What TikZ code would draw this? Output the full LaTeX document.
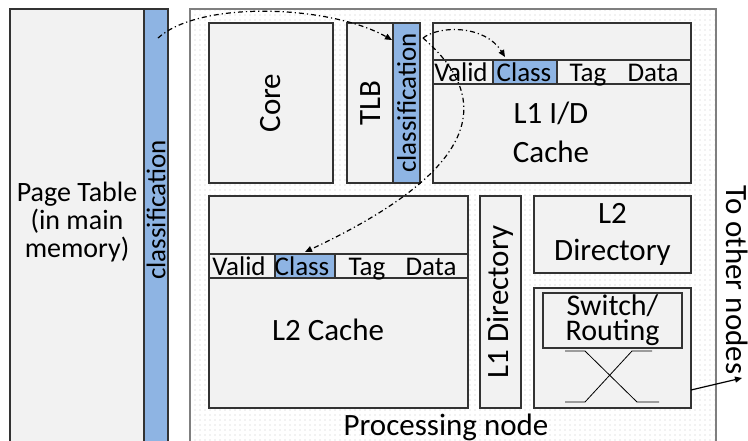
\documentclass[tikz,border=0pt]{standalone}
\usepackage{fontspec}
\setmainfont{Carlito}
\usetikzlibrary{
    arrows.meta,
    patterns.meta,
    calc,
}
\definecolor{boxgray}{HTML}{F2F2F2}
\definecolor{classblue}{HTML}{8EB4E3}
\definecolor{framegray}{HTML}{7F7F7F}
\tikzset{
    blocknode/.style={
            draw=black!80,
            fill=boxgray,
            line width=1.1pt,
            inner sep=0,
            outer sep=0,
            font=\fontsize{31}{37}\selectfont,
        }
}
\tikzset{
    classnode/.style={
            blocknode,
            fill=classblue,
        }
}
\tikzset{
    labelnode/.style={
            inner sep=0,
            font=\fontsize{31}{39}\selectfont,
        }
}
\tikzset{
    smallnode/.style={
            inner sep=0,
            font=\fontsize{27}{28}\selectfont,
        }
}
\tikzset{
    copyarrow/.style={
            -{Triangle[length=7pt,width=6pt]},
            line width=1.2pt,
            dash pattern=on 5pt off 3pt on 1.2pt off 3pt,
        }
}

\begin{document}
\begin{tikzpicture}[x=1pt, y=-1pt]
    \fill[white] (0,0) rectangle (748,440);
    \useasboundingbox (0,0) rectangle (748,440);

    % page table
    \node[
        blocknode,
        anchor=north west,
        minimum width=134,
        minimum height=460,
    ] (PT) at (10,9) {};
    \node[
        classnode,
        anchor=north west,
        minimum width=24,
        minimum height=460,
    ] (PC) at (PT.north east) {};
    \node[
        labelnode,
        align=center,
        font=\fontsize{28}{28}\selectfont,
    ] at (77,222) {Page Table\\(in main\\memory)};
    \node[smallnode, rotate=90] at (156,210) {classification};

    % processing node
    \node[
        draw=framegray,
        line width=1.5pt,
        pattern={Dots[distance=5pt, radius=0.7pt]},
        pattern color=black!22,
        anchor=north west,
        minimum width=526,
        minimum height=460,
        inner sep=0,
        outer sep=0,
    ] (PN) at (190,9) {};
    \node[labelnode, anchor=base] at (446,435) {Processing node};

    % core
    \node[blocknode, minimum width=124, minimum height=160] (C) at (271,103) {};
    \node[labelnode, rotate=90] at (C) {Core};

    % tlb
    \node[blocknode, minimum width=73, minimum height=160] (T) at (383.5,103) {};
    \node[labelnode, rotate=90] at (371,103) {TLB};
    \node[classnode, minimum width=27, minimum height=160] (TC) at (406.5,103) {};
    \node[smallnode, rotate=90] at (TC) {classification};

    % l1 cache
    \node[blocknode, minimum width=258, minimum height=160] (L1) at (562,103) {};
    \node[
        blocknode,
        anchor=north west,
        minimum width=258,
        minimum height=24,
    ] (L1R) at (433,60) {};
    \node[
        classnode,
        anchor=north west,
        minimum width=64,
        minimum height=24,
    ] (L1C) at (493,60) {};
    \foreach \x/\l in {461/Valid, 524/Class, 588/Tag, 653/Data}
        \node[smallnode, anchor=base] at (\x,81) {\l};
    \node[labelnode, align=center] at (551,132) {L1 I/D\\Cache};

    % l2 cache
    \node[blocknode, minimum width=259, minimum height=212] (L2) at (338.5,302) {};
    \node[
        blocknode,
        anchor=north west,
        minimum width=259,
        minimum height=24,
    ] (L2R) at (209,254) {};
    \node[
        classnode,
        anchor=north west,
        minimum width=60,
        minimum height=24,
    ] (L2C) at (275,254) {};
    \foreach \x/\l in {239/Valid, 302/Class, 367/Tag, 431/Data}
        \node[smallnode, anchor=base] at (\x,275) {\l};
    \node[labelnode, anchor=base] at (328,340) {L2 Cache};

    % directories
    \node[blocknode, minimum width=41, minimum height=212] (D1) at (500.5,302) {};
    \node[labelnode, rotate=90] at (D1) {L1 Directory};
    \node[
        blocknode,
        align=center,
        minimum width=157,
        minimum height=77,
    ] (D2) at (612.5,234.5) {L2\\Directory};

    % switch
    \node[blocknode, minimum width=157, minimum height=120] (S) at (612.5,348) {};
    \node[
        blocknode,
        align=center,
        font=\fontsize{30}{25}\selectfont,
        minimum width=139,
        minimum height=55,
    ] (SR) at (612.5,320.5) {Switch/\\Routing};
    \draw[line width=0.8pt] (565,351) -- (585,351) -- (637,402) -- (659,402);
    \draw[line width=0.8pt] (652,351) -- (632,351) -- (585,402) -- (565,402);

    % switch -> other nodes
    \coordinate (ON) at (742,378);
    \draw[-{Triangle[length=7pt,width=6pt]}, line width=1.2pt] ($(S.south east)+(0,-18)$) -- (ON);
    \node[labelnode, rotate=-90, anchor=base] at (726,280) {To other nodes};

    % classification copies
    \coordinate (PCs) at ($(PC.north)+(2,29)$);
    \coordinate (TCin) at ($(TC.north west)+(-1,17)$);
    \coordinate (TCout) at ($(TC.north east)+(3,15)$);
    \coordinate (L1in) at ($(L1C.north west)+(12,-3)$);
    \coordinate (L2in) at ($(L2C.north west)+(30,-2)$);
    \draw[copyarrow] (PCs) .. controls (200,0) and (330,5) .. (TCin);
    \draw[copyarrow] (TCout) .. controls (440,25) and (485,25) .. (L1in);
    \draw[copyarrow] (TCout) .. controls (495,100) and (480,170) .. (L2in);
\end{tikzpicture}
\end{document}
